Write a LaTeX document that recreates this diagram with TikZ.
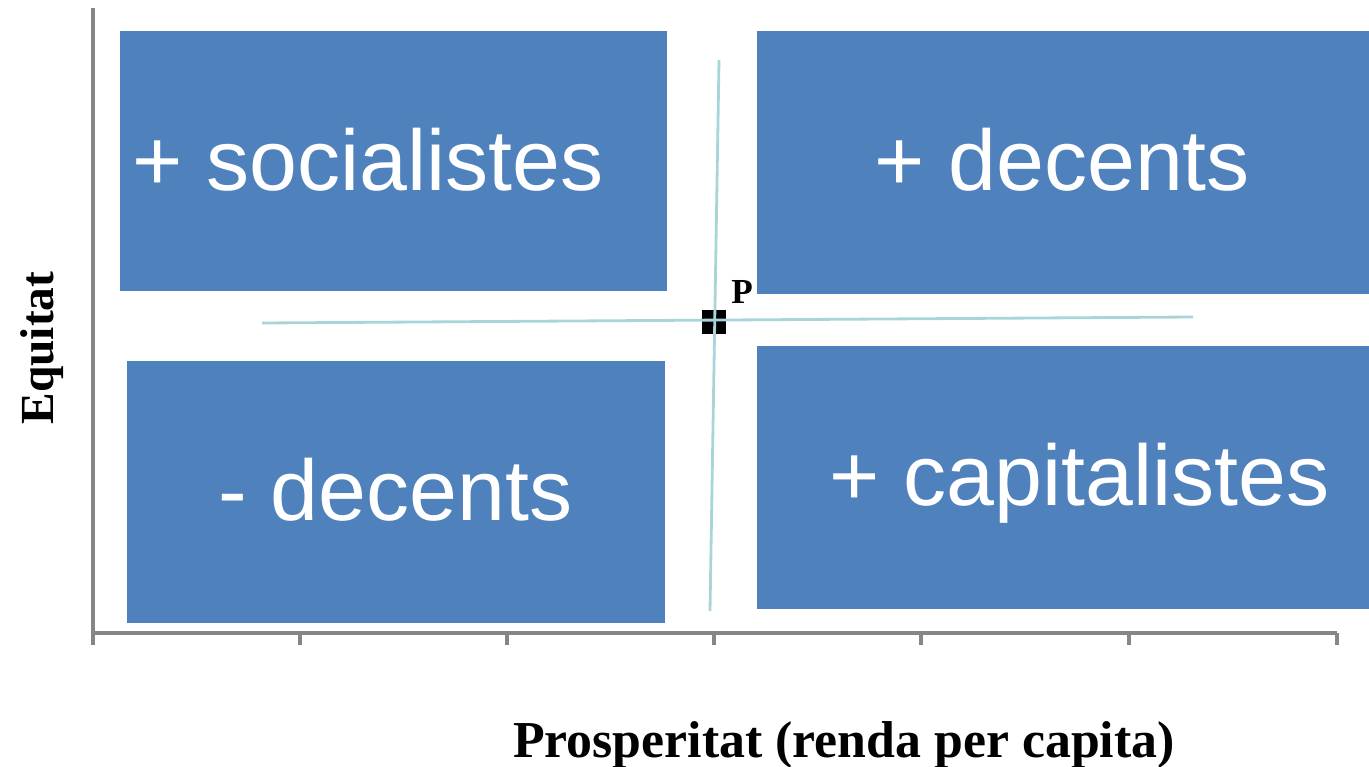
\documentclass[tikz,border=0pt]{standalone}
\usepackage{fontspec}
\setmainfont{Liberation Serif}
\newfontfamily\quadfont{Liberation Sans}
\usepackage{tikz}
\definecolor{quadblue}{HTML}{4F81BD}
\definecolor{axisgray}{HTML}{868686}
\definecolor{guidecyan}{HTML}{A9D5D9}

\begin{document}
\begin{tikzpicture}[x=0.02cm,y=-0.02cm,
  quad/.style={fill=quadblue},
  quadtext/.style={anchor=base west,inner sep=0pt,text=white,font=\quadfont\fontsize{49}{51}\selectfont},
  axislabel/.style={font=\bfseries\fontsize{29.5}{32}\selectfont,inner sep=0pt},
  guide/.style={guidecyan,line width=1.6pt},
  marker/.style={fill=black,inner sep=0pt,minimum size=13.6pt}]
\useasboundingbox (0,0) rectangle (1369,767);
% axes
\coordinate (orig) at (93,633);
\coordinate (ytop) at (93,8);
\coordinate (xend) at (1337,633);
\draw[axisgray,line width=1.9pt] (ytop) -- (orig) -- (xend);
\foreach \x in {93,300,507,714,921,1129,1337}
  \draw[axisgray,line width=1.9pt] (\x,633) -- (\x,645);
% quadrants
\fill[quad] (120,31) rectangle (667,291);
\fill[quad] (757,31) rectangle (1369,294);
\fill[quad] (127,361) rectangle (665,623);
\fill[quad] (757,346) rectangle (1369,609);
\node[quadtext] (soc) at (132,190) {+ socialistes};
\node[quadtext] (dec) at (874,190) {+ decents};
\node[quadtext] (mdec) at (218,520) {- decents};
\node[quadtext] (cap) at (829,505) {+ capitalistes};
% point P and guide lines
\node[marker] (pt) at (714,322) {};
\coordinate (hl) at (262,323);
\coordinate (hr) at (1193,317);
\coordinate (vt) at (719,60);
\coordinate (vb) at (710,611);
\draw[guide] (hl) -- (hr);
\draw[guide] (vt) -- (vb);
\node[font=\bfseries\fontsize{20}{22}\selectfont,anchor=base west,inner sep=0pt] (plab) at (731,303) {P};
% axis labels
\node[axislabel,anchor=base] (xlab) at (844,757) {Prosperitat (renda per capita)};
\node[axislabel,font=\bfseries\fontsize{27}{30}\selectfont,rotate=90,anchor=base] (ylab) at (53,348) {Equitat};
\end{tikzpicture}
\end{document}
